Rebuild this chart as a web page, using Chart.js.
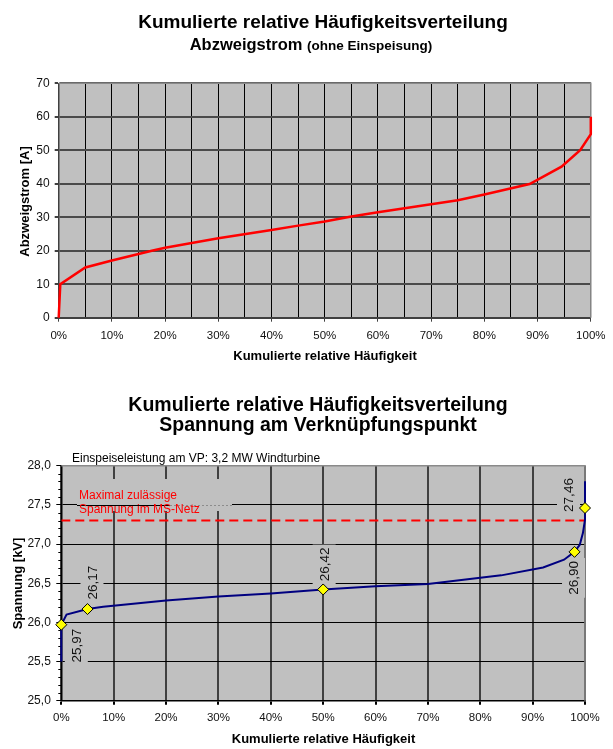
<!DOCTYPE html>
<html>
<head>
<meta charset="utf-8">
<script src="https://cdn.jsdelivr.net/npm/chart.js@4.4.1/dist/chart.umd.min.js"></script>
<style>
  html, body { margin: 0; padding: 0; background: #ffffff; }
  #wrap { position: relative; width: 613px; height: 749px; }
  canvas { position: absolute; left: 0; }
</style>
</head>
<body>
<div id="wrap">
  <canvas id="strom" width="613" height="372" style="top:0;width:613px;height:372px"></canvas>
  <canvas id="spannung" width="613" height="377" style="top:372px;width:613px;height:377px"></canvas>
</div>
<script>
// ---- Abzweigstrom (ohne Einspeisung) ----
const stromAnteil = [0, 0.3, 5, 10, 17.5, 20, 30, 40, 45, 50, 55, 60, 70, 75, 80, 88.5, 94.5, 98, 100, 100];
const stromWerte  = [0, 10, 15, 17.1, 20, 20.9, 23.7, 26.2, 27.5, 28.7, 30.2, 31.5, 33.9, 35.1, 36.8, 39.9, 45.1, 50, 54.8, 60];
const stromYTicks = [0, 10, 20, 30, 40, 50, 60, 70];
const stromXGrid  = [0, 5, 10, 15, 20, 25, 30, 35, 40, 45, 50, 55, 60, 65, 70, 75, 80, 85, 90, 95, 100];

// ---- Spannung am Verknüpfungspunkt ----
const spannungAnteil = [0, 0, 1, 5, 8, 20, 30, 40, 50, 60, 70, 84, 92, 96, 98, 99, 99.6, 100, 100, 100];
const spannungWerte  = [25.5, 25.97, 26.1, 26.17, 26.2, 26.28, 26.33, 26.37, 26.42, 26.46, 26.49, 26.6, 26.7, 26.8, 26.9, 26.99, 27.14, 27.31, 27.46, 27.8];
const markAnteil = [0, 5, 50, 98, 100];
const markWerte  = [25.97, 26.17, 26.42, 26.90, 27.46];
const grenzSpannung = 27.3;
const spannungYTicks = [25.0, 25.5, 26.0, 26.5, 27.0, 27.5, 28.0];
const spannungXTicks = [0, 10, 20, 30, 40, 50, 60, 70, 80, 90, 100];

const FONT = '"Liberation Sans", Arial, Helvetica, sans-serif';
Chart.defaults.font.family = FONT;
Chart.defaults.color = '#000';

const komma = v => v.toFixed(1).replace('.', ',');
const xy = (xs, ys) => xs.map((x, i) => ({ x: x, y: ys[i] }));
const setTicks = arr => scale => { scale.ticks = arr.map(v => ({ value: v })); };

// grey plot background plus light frame at top/right
const plotFrame = {
  id: 'plotFrame',
  beforeDraw(chart) {
    const a = chart.chartArea, c = chart.ctx;
    c.save();
    c.fillStyle = '#C0C0C0';
    c.fillRect(a.left, a.top, a.right - a.left, a.bottom - a.top);
    c.restore();
  },
  beforeDatasetsDraw(chart) {
    const a = chart.chartArea, c = chart.ctx;
    c.save();
    c.strokeStyle = '#8a8a8a';
    c.lineWidth = 1.5;
    c.beginPath();
    c.moveTo(a.left, a.top);
    c.lineTo(a.right, a.top);
    c.lineTo(a.right, a.bottom);
    c.stroke();
    c.restore();
  }
};

function text(c, str, x, y, font, color, align, rot) {
  c.save();
  c.font = font;
  c.fillStyle = color || '#000';
  c.textAlign = align || 'center';
  c.textBaseline = 'alphabetic';
  c.translate(x, y);
  if (rot) c.rotate(rot);
  c.fillText(str, 0, 0);
  c.restore();
}

// ---------- chart 1 ----------
const stromTexte = {
  id: 'stromTexte',
  afterDraw(chart) {
    const c = chart.ctx;
    text(c, 'Kumulierte relative Häufigkeitsverteilung', 323, 27.5, 'bold 19px ' + FONT);
    // second title line with smaller bracket part
    const f1 = 'bold 16.5px ' + FONT, f2 = 'bold 13.5px ' + FONT;
    c.save();
    c.font = f1; const w1 = c.measureText('Abzweigstrom ').width;
    c.font = f2; const w2 = c.measureText('(ohne Einspeisung)').width;
    c.restore();
    const x0 = 311 - (w1 + w2) / 2;
    text(c, 'Abzweigstrom ', x0, 50, f1, '#000', 'left');
    text(c, '(ohne Einspeisung)', x0 + w1, 50, f2, '#000', 'left');
    text(c, 'Kumulierte relative Häufigkeit', 325, 359.5, 'bold 13px ' + FONT);
    text(c, 'Abzweigstrom [A]', 28.5, 201.5, 'bold 13px ' + FONT, '#000', 'center', -Math.PI / 2);
  }
};

new Chart(document.getElementById('strom'), {
  type: 'line',
  data: {
    datasets: [{
      data: xy(stromAnteil, stromWerte),
      borderColor: '#FF0000',
      borderWidth: 2.5,
      pointRadius: 0,
      tension: 0,
      clip: false
    }]
  },
  options: {
    responsive: false,
    animation: false,
    events: [],
    layout: { padding: { left: 0, right: 20.7, top: 83.3, bottom: 0 } },
    plugins: { legend: { display: false }, tooltip: { enabled: false }, title: { display: false } },
    scales: {
      x: {
        type: 'linear', min: 0, max: 100,
        afterBuildTicks: setTicks(stromXGrid),
        afterFit: s => { s.height = 54.3; },
        ticks: {
          autoSkip: false, maxRotation: 0, padding: 7.5,
          font: { size: 11.5 }, color: '#111',
          callback: v => (v % 10 === 0 ? v + '%' : '')
        },
        grid: {
          color: '#000', lineWidth: 1, tickLength: 4,
          tickColor: ctx => (ctx.tick && ctx.tick.value % 10 === 0 ? '#404040' : 'rgba(0,0,0,0)')
        },
        border: { color: '#404040', width: 2 }
      },
      y: {
        type: 'linear', min: 0, max: 70,
        afterBuildTicks: setTicks(stromYTicks),
        afterFit: s => { s.width = 58.7; },
        ticks: { padding: 5, font: { size: 12 }, color: '#111' },
        grid: { color: '#4a4a4a', lineWidth: 2, tickLength: 4, tickColor: '#404040' },
        border: { color: '#404040', width: 1.5 }
      }
    }
  },
  plugins: [plotFrame, stromTexte]
});

// ---------- chart 2 ----------
// label offsets (px) from each marked point: dx, dy of the label centre
const labelOffsets = [[15, 21], [4.5, -26.5], [1, -25], [-1, 26], [-16.5, -13]];

const spannungTexte = {
  id: 'spannungTexte',
  beforeDatasetsDraw(chart) {
    const c = chart.ctx, xs = chart.scales.x, ys = chart.scales.y;
    // minor ticks every 0.1 kV on the value axis
    c.save();
    c.strokeStyle = '#000';
    c.lineWidth = 1;
    for (let k = 251; k < 280; k++) {
      if (k % 5 === 0) continue;
      const py = Math.round(ys.getPixelForValue(k / 10)) + 0.5;
      c.beginPath();
      c.moveTo(chart.chartArea.left - 3, py);
      c.lineTo(chart.chartArea.left, py);
      c.stroke();
    }
    c.restore();

    // text box for the limit annotation; the 27,5 gridline stays visible through it
    const gy = Math.round(ys.getPixelForValue(27.5)) + 0.5;
    c.save();
    c.fillStyle = '#C0C0C0';
    c.fillRect(77, 107, 155, 32);
    c.strokeStyle = '#000';
    c.lineWidth = 1;
    c.beginPath();
    c.moveTo(77, gy);
    c.lineTo(170, gy);
    c.stroke();
    c.strokeStyle = '#8c8c8c';
    c.setLineDash([2, 2]);
    c.beginPath();
    c.moveTo(170, gy);
    c.lineTo(232, gy);
    c.stroke();
    c.restore();
    text(c, 'Maximal zulässige', 79, 127.3, '12px ' + FONT, '#FF0000', 'left');
    text(c, 'Spannung im MS-Netz', 79, 140.7, '12px ' + FONT, '#FF0000', 'left');

    // value labels, rotated, on a grey box
    const f = '13.5px ' + FONT;
    markWerte.forEach((v, i) => {
      const px = xs.getPixelForValue(markAnteil[i]) + labelOffsets[i][0];
      const py = ys.getPixelForValue(v) + labelOffsets[i][1];
      const s = v.toFixed(2).replace('.', ',');
      c.save();
      c.font = f;
      const w = c.measureText(s).width;
      c.translate(px, py);
      c.rotate(-Math.PI / 2);
      c.fillStyle = '#C0C0C0';
      c.fillRect(-w / 2 - 3, -11.5, w + 6, 23);
      c.fillStyle = '#111';
      c.textAlign = 'center';
      c.textBaseline = 'middle';
      c.fillText(s, 0, 1);
      c.restore();
    });
  },
  afterDraw(chart) {
    const c = chart.ctx;
    text(c, 'Kumulierte relative Häufigkeitsverteilung', 318, 38.5, 'bold 19.5px ' + FONT);
    text(c, 'Spannung am Verknüpfungspunkt', 318, 58.5, 'bold 19.5px ' + FONT);
    text(c, 'Einspeiseleistung am VP: 3,2 MW Windturbine', 72, 90, '12px ' + FONT, '#000', 'left');
    text(c, 'Kumulierte relative Häufigkeit', 323.5, 370.5, 'bold 13px ' + FONT);
    text(c, 'Spannung [kV]', 22, 211.5, 'bold 13px ' + FONT, '#000', 'center', -Math.PI / 2);
  }
};

new Chart(document.getElementById('spannung'), {
  type: 'line',
  data: {
    datasets: [
      {
        data: xy(markAnteil, markWerte),
        showLine: false,
        pointStyle: 'rectRot',
        pointRadius: 5.5,
        pointBackgroundColor: '#FFFF00',
        pointBorderColor: '#000',
        pointBorderWidth: 1,
        clip: false,
        order: 0
      },
      {
        data: xy(spannungAnteil, spannungWerte),
        borderColor: '#000080',
        borderWidth: 2,
        pointRadius: 0,
        tension: 0,
        clip: false,
        order: 1
      },
      {
        data: [{ x: 0, y: grenzSpannung }, { x: 100, y: grenzSpannung }],
        borderColor: '#FF0000',
        borderWidth: 2,
        borderDash: [9, 5],
        pointRadius: 0,
        order: 2
      }
    ]
  },
  options: {
    responsive: false,
    animation: false,
    events: [],
    layout: { padding: { left: 0, right: 28, top: 93.7, bottom: 0 } },
    plugins: { legend: { display: false }, tooltip: { enabled: false }, title: { display: false } },
    scales: {
      x: {
        type: 'linear', min: 0, max: 100,
        afterBuildTicks: setTicks(spannungXTicks),
        afterFit: s => { s.height = 48.3; },
        ticks: { autoSkip: false, maxRotation: 0, padding: 6, font: { size: 11.5 }, color: '#111', callback: v => v + '%' },
        grid: { color: '#404040', lineWidth: 2, tickLength: 4, tickColor: '#000' },
        border: { color: '#000', width: 1.5 }
      },
      y: {
        type: 'linear', min: 25, max: 28,
        afterBuildTicks: setTicks(spannungYTicks),
        afterFit: s => { s.width = 61.3; },
        ticks: { padding: 5.5, font: { size: 12 }, color: '#111', callback: v => komma(v) },
        grid: { color: '#000', lineWidth: 1, tickLength: 5, tickColor: '#000' },
        border: { color: '#000', width: 1.5 }
      }
    }
  },
  plugins: [plotFrame, spannungTexte]
});
</script>
</body>
</html>
